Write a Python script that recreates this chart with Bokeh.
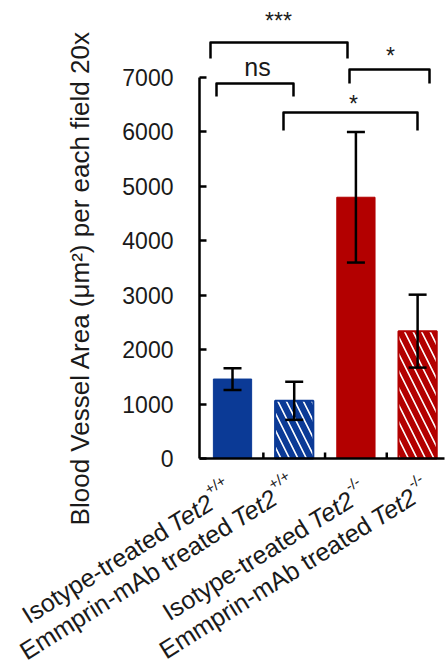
import math
from bokeh.plotting import figure
from bokeh.models import (Range1d, LinearAxis, FixedTicker, ColumnDataSource,
                          Whisker, TeeHead)
from bokeh.core.properties import value
from bokeh.embed import file_html
from bokeh.resources import INLINE

# ---------------- data ----------------
treatments = ["Isotype-treated", "Emmprin-mAb treated", "Isotype-treated", "Emmprin-mAb treated"]
gene = "Tet2"
genotypes = ["+/+", "+/+", "-/-", "-/-"]
means = [1460, 1060, 4800, 2340]
errors = [200, 350, 1200, 670]
y_ticks = [0, 1000, 2000, 3000, 4000, 5000, 6000, 7000]
y_label = "Blood Vessel Area (\u03bcm\u00b2) per each field 20x"
# comparisons: (from bar, to bar, label)
comparisons = [(0, 2, "***"), (0, 1, "ns"), (2, 3, "*"), (1, 3, "*")]

BLUE = "#0b3a96"
RED = "#b30000"
colors = [BLUE, BLUE, RED, RED]
hatched = [False, True, False, True]

# ---------------- layout ----------------
PAGE0 = 0               # canvas origin on page
W, H = 445, 666
PX_CAT = 61.7           # px per category
PX_VAL = 0.05443        # px per value unit
AXIS_X = -0.035         # data x of the y axis
OX, OY = 199 - PAGE0, 458 - PAGE0   # canvas position of axis origin
x_start = AXIS_X - OX / PX_CAT
x_end = x_start + W / PX_CAT
y_end = OY / PX_VAL
y_start = y_end - H / PX_VAL


def cx(page_x):
    return x_start + (page_x - PAGE0) / PX_CAT


def cy(page_y):
    return y_end - (page_y - PAGE0) / PX_VAL


FONT = "Liberation Sans"
TXT = "#1a1a1a"

p = figure(width=W, height=H, x_range=Range1d(x_start, x_end),
           y_range=Range1d(y_start, y_end), output_backend="svg",
           toolbar_location=None, min_border=0, x_axis_location=None,
           y_axis_location=None, outline_line_color=None)
p.xgrid.visible = False
p.ygrid.visible = False

yaxis = LinearAxis(fixed_location=AXIS_X, bounds=(0, 7000),
                   ticker=FixedTicker(ticks=y_ticks))
yaxis.axis_line_width = 2.5
yaxis.axis_line_color = "black"
yaxis.major_tick_in = 7
yaxis.major_tick_out = 0
yaxis.major_tick_line_width = 2.5
yaxis.minor_tick_line_color = None
yaxis.major_label_text_font = FONT
yaxis.major_label_text_font_size = "23px"
yaxis.major_label_text_color = TXT
yaxis.major_label_standoff = 26
p.add_layout(yaxis, "left")

xaxis = LinearAxis(fixed_location=0, bounds=(AXIS_X, x_end - 0.01),
                   ticker=FixedTicker(ticks=[]))
xaxis.axis_line_width = 2.5
xaxis.axis_line_color = "black"
xaxis.major_tick_line_color = None
xaxis.minor_tick_line_color = None
p.add_layout(xaxis, "below")

# category separator ticks (inward, 6px)
sep = [1, 2, 3]
p.segment(x0=sep, x1=sep, y0=[0] * 3, y1=[6 / PX_VAL] * 3,
          line_color="black", line_width=2.5)

xs = [i + 0.5 for i in range(len(means))]
BAR_W = 0.62

solid = ColumnDataSource(dict(
    x=[x for x, h in zip(xs, hatched) if not h],
    top=[m for m, h in zip(means, hatched) if not h],
    color=[c for c, h in zip(colors, hatched) if not h]))
hatch = ColumnDataSource(dict(
    x=[x for x, h in zip(xs, hatched) if h],
    top=[m for m, h in zip(means, hatched) if h],
    color=[c for c, h in zip(colors, hatched) if h]))

p.vbar(x="x", top="top", bottom=0, width=BAR_W, source=solid,
       fill_color="color", line_color="color", line_width=1)
p.vbar(x="x", top="top", bottom=0, width=BAR_W, source=hatch,
       fill_color="white", line_color="color", line_width=2,
       hatch_color="color", hatch_pattern="\\", hatch_scale=17, hatch_weight=6)

err = ColumnDataSource(dict(x=xs,
                            upper=[m + e for m, e in zip(means, errors)],
                            lower=[m - e for m, e in zip(means, errors)]))
wh = Whisker(base="x", upper="upper", lower="lower", source=err,
             line_width=2.5, line_color="black", level="overlay",
             upper_head=TeeHead(size=18, line_width=2.5, line_color="black"),
             lower_head=TeeHead(size=18, line_width=2.5, line_color="black"))
p.add_layout(wh)

# ---------------- significance brackets ----------------
# page-pixel geometry of brackets: (left, right, top, leg bottom, label cx, label baseline)
br_geom = [(210, 347, 42, 58, 278, 20),
           (216, 293, 83, 96, 257, 66),
           (349, 429, 69, 83, 390, 55),
           (283, 417, 112, 130, 353, 103)]
bxs, bys = [], []
for (l, r, t, b, _, _) in br_geom:
    bxs.append([cx(l), cx(l), cx(r), cx(r)])
    bys.append([cy(b), cy(t), cy(t), cy(b)])
p.multi_line(xs=bxs, ys=bys, line_color="black", line_width=2.5,
             line_join="round")
for (cmp, g) in zip(comparisons, br_geom):
    lab = cmp[2]
    size = "25px" if lab == "ns" else "23px"
    p.text(x=[cx(g[4])], y=[cy(g[5])], text=[lab], text_font=value(FONT),
           text_font_size=size, text_color=TXT, text_align="center",
           text_baseline="alphabetic")

# ---------------- y axis label ----------------
p.text(x=[cx(79)], y=[cy(277.5)], text=[y_label], angle=math.pi / 2,
       text_font=value(FONT), text_font_size="26px", text_color=TXT,
       text_align="center", text_baseline="middle")

# ---------------- category labels ----------------
ANG = math.radians(32)
u = (math.cos(ANG), -math.sin(ANG))
n = (-math.sin(ANG), -math.cos(ANG))
end_off = [(-22, 42), (-20, 37), (-5, 39), (-4, 36)]   # "Tet2" baseline end, px
W_GENE = 45.8 + 7
for i, x in enumerate(xs):
    ex, ey = end_off[i]
    # gene name (italic)
    p.text(x=[x], y=[0], text=[gene], angle=ANG, x_offset=ex, y_offset=ey,
           text_font=value(FONT), text_font_style="italic",
           text_font_size="25px", text_color=TXT, text_align="right",
           text_baseline="alphabetic")
    # treatment
    p.text(x=[x], y=[0], text=[treatments[i]], angle=ANG,
           x_offset=ex - u[0] * W_GENE, y_offset=ey - u[1] * W_GENE,
           text_font=value(FONT), text_font_size="25px", text_color=TXT,
           text_align="right", text_baseline="alphabetic")
    # genotype superscript
    p.text(x=[x], y=[0], text=[genotypes[i]], angle=ANG,
           x_offset=ex + u[0] * 1.5 + n[0] * 11,
           y_offset=ey + u[1] * 1.5 + n[1] * 11,
           text_font=value(FONT), text_font_size="15px", text_color=TXT,
           text_align="left", text_baseline="alphabetic")

open("out.html", "w").write(file_html(p, INLINE))
